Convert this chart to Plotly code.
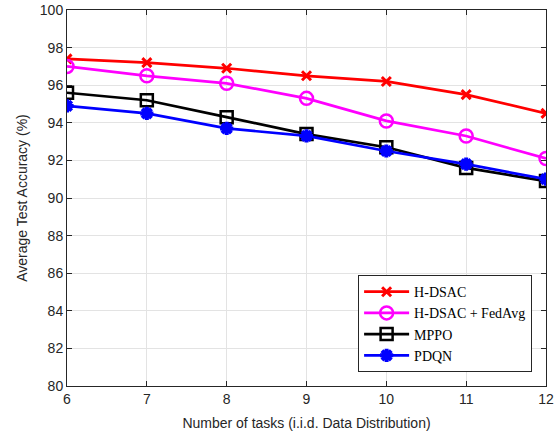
import plotly.graph_objects as go

tasks = [6, 7, 8, 9, 10, 11, 12]
hdsac = [97.4, 97.2, 96.9, 96.5, 96.2, 95.5, 94.5]
hdsac_fedavg = [97.0, 96.5, 96.1, 95.3, 94.1, 93.3, 92.1]
mppo = [95.6, 95.2, 94.3, 93.4, 92.7, 91.6, 90.9]
pdqn = [94.9, 94.5, 93.7, 93.3, 92.5, 91.8, 91.0]

series = [
    ("H-DSAC", hdsac, "#ff0000", dict(symbol="x-thin-open", size=9, line=dict(width=3, color="#ff0000"))),
    ("H-DSAC + FedAvg", hdsac_fedavg, "#ff00ff", dict(symbol="circle-open", size=13, line=dict(width=2.5, color="#ff00ff"))),
    ("MPPO", mppo, "#000000", dict(symbol="square-open", size=12, line=dict(width=2.5, color="#000000"))),
    ("PDQN", pdqn, "#0000ff", dict(symbol="asterisk-open", size=11, line=dict(width=4, color="#0000ff"))),
]

fig = go.Figure()
for name, vals, col, mk in series:
    fig.add_trace(go.Scatter(x=tasks, y=vals, name=name, mode="lines+markers",
                             line=dict(color=col, width=2.7), marker=dict(color=col, **mk)))

axis_common = dict(showline=True, linecolor="#262626", linewidth=1, mirror="ticks",
                   ticks="inside", ticklen=5, tickcolor="#262626",
                   showgrid=True, gridcolor="#e3e3e3", gridwidth=1, zeroline=False,
                   automargin=False,
                   tickfont=dict(family="Liberation Sans, Arial", size=14, color="#262626"))

fig.update_layout(
    width=560, height=438,
    margin=dict(l=67, r=14, t=10, b=52),
    paper_bgcolor="white", plot_bgcolor="white",
    xaxis=dict(range=[6, 12], tickvals=tasks, **axis_common,
               title=dict(text="Number of tasks (i.i.d. Data Distribution)", standoff=12,
                          font=dict(family="Liberation Sans, Arial", size=14, color="#262626"))),
    yaxis=dict(range=[80, 100], tickvals=list(range(80, 101, 2)), **axis_common,
               title=dict(text="Average Test Accuracy (%)", standoff=8,
                          font=dict(family="Liberation Sans, Arial", size=14, color="#262626"))),
    legend=dict(x=0.971, y=0.037, xanchor="right", yanchor="bottom",
                bgcolor="white", bordercolor="#262626", borderwidth=1,
                font=dict(family="Liberation Serif, DejaVu Serif", size=14, color="#000"),
                tracegroupgap=0, itemwidth=45),
    showlegend=True,
)

fig.write_html("out.html")
